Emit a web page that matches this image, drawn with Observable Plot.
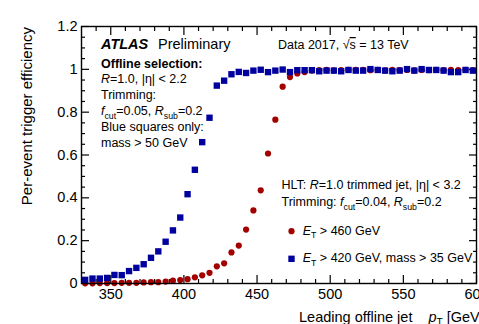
<!DOCTYPE html>
<html><head><meta charset="utf-8">
<script src="https://cdn.jsdelivr.net/npm/d3@7"></script>
<script src="https://cdn.jsdelivr.net/npm/@observablehq/plot@0.6"></script>
<style>
html,body{margin:0;padding:0;background:#fff;overflow:hidden;}
#chart{width:479px;height:324px;position:relative;overflow:hidden;}
svg text{font-family:"Liberation Sans",Arial,Helvetica,sans-serif;}
</style></head><body><div id="chart"></div>
<script>
// ---- data ----
const ptBins = [332.5,337.5,342.5,347.5,352.5,357.5,362.5,367.5,372.5,377.5,
  382.5,387.5,392.5,397.5,402.5,407.5,412.5,417.5,422.5,427.5,
  432.5,437.5,442.5,447.5,452.5,457.5,462.5,467.5,472.5,477.5,
  482.5,487.5,492.5,497.5,502.5,507.5,512.5,517.5,522.5,527.5,
  532.5,537.5,542.5,547.5,552.5,557.5,562.5,567.5,572.5,577.5,
  582.5,587.5,592.5,597.5];
// HLT E_T > 460 GeV (red circles)
const effEt460 = [0.001,0.001,0.002,0.002,0.002,0.003,0.003,0.003,0.005,0.006,
  0.006,0.009,0.013,0.016,0.020,0.029,0.038,0.050,0.080,0.094,
  0.145,0.177,0.252,0.341,0.435,0.607,0.765,0.919,0.964,0.981,
  0.987,0.994,0.996,0.998,0.995,0.996,0.998,0.998,0.998,0.996,
  0.998,0.995,0.998,0.996,0.997,0.995,0.997,0.996,0.998,0.996,
  0.998,0.997,0.998,0.996];
// HLT E_T > 420 GeV, mass > 35 GeV (blue squares)
const effEt420m35 = [0.017,0.023,0.023,0.026,0.040,0.039,0.058,0.073,0.090,0.120,
  0.150,0.195,0.248,0.308,0.417,0.531,0.660,0.774,0.924,0.947,
  0.977,0.988,0.983,0.994,0.998,0.987,0.994,0.999,0.987,0.996,
  0.996,0.996,0.991,0.994,0.994,0.991,0.997,0.994,0.994,1.001,
  0.997,0.994,0.991,0.994,1.001,0.994,1.001,0.997,0.997,0.994,
  0.987,0.987,0.997,0.994];
const xMajorTicks = [350,400,450,500,550,600];
const xTickLabels = ["350","400","450","500","550","600"];
const xMinorTicks = [340,360,370,380,390,410,420,430,440,460,470,480,490,510,520,530,540,560,570,580,590];
const yMajorTicks = [0,0.2,0.4,0.6,0.8,1,1.2];
const yTickLabels = ["0","0.2","0.4","0.6","0.8","1","1.2"];
const yMinorTicks = [0.05,0.1,0.15,0.25,0.3,0.35,0.45,0.5,0.55,0.65,0.7,0.75,0.85,0.9,0.95,1.05,1.1,1.15];

const red = "#a30000", blue = "#00009f";
const rowsRed = ptBins.map((x, i) => ({x, y: effEt460[i]}));
const rowsBlue = ptBins.map((x, i) => ({x, y: effEt420m35[i]}));

const ticks = (axis, anchor, t, size) => (axis === "x" ? Plot.axisX : Plot.axisY)({
  ticks: t, anchor, tickSize: size, tickFormat: () => "", label: null, strokeWidth: 1.2
});

const plot = Plot.plot({
  width: 479, height: 324,
  marginLeft: 81, marginRight: 3, marginTop: 26, marginBottom: 41,
  x: {domain: [330, 600], label: null},
  y: {domain: [0, 1.2], label: null},
  style: {fontFamily: '"Liberation Sans",Arial,Helvetica,sans-serif', fontSize: "14.5px", color: "#000", background: "#fff", overflow: "visible"},
  marks: [
    ticks("x", "bottom", xMajorTicks, -8), ticks("x", "bottom", xMinorTicks, -4),
    ticks("x", "top", xMajorTicks, -8), ticks("x", "top", xMinorTicks, -4),
    ticks("y", "left", yMajorTicks, -8), ticks("y", "left", yMinorTicks, -4),
    ticks("y", "right", yMajorTicks, -8), ticks("y", "right", yMinorTicks, -4),
    Plot.axisX({ticks: xMajorTicks, anchor: "bottom", tickSize: 0, tickPadding: 5, label: null,
      tickFormat: d => xTickLabels[xMajorTicks.indexOf(d)], fontSize: 14.5}),
    Plot.axisY({ticks: yMajorTicks, anchor: "left", tickSize: 0, tickPadding: 4, label: null,
      tickFormat: d => yTickLabels[yMajorTicks.indexOf(d)], fontSize: 14.5}),
    Plot.dot(rowsRed, {x: "x", y: "y", r: 3.1, fill: red, symbol: "circle"}),
    Plot.dot(rowsBlue, {x: "x", y: "y", r: 3.6, fill: blue, symbol: "square"}),
    Plot.frame({stroke: "#000", strokeWidth: 1.4}),
    Plot.dot([0], {frameAnchor: "top-left", dx: 210, dy: 204.7, r: 3.1, fill: red, symbol: "circle"}),
    Plot.dot([0], {frameAnchor: "top-left", dx: 210, dy: 232.3, r: 3.6, fill: blue, symbol: "square"})
  ]
});
document.getElementById("chart").append(plot);

// ---- rich-text annotations ----
const svg = d3.select(plot);
function rich(x, y, size, parts, opts = {}) {
  const t = svg.append("text").attr("x", x).attr("y", y).attr("font-size", size)
    .attr("fill", "#000").attr("text-anchor", opts.anchor || "start");
  if (opts.rotate) t.attr("transform", `rotate(-90 ${x} ${y})`);
  let shift = 0;
  for (const p of parts) {
    const s = typeof p === "string" ? {t: p} : p;
    const ts = t.append("tspan").text(s.t);
    if (s.i) ts.attr("font-style", "italic");
    if (s.b) ts.attr("font-weight", "bold");
    if (s.o) ts.attr("text-decoration", "overline");
    if (s.dx) ts.attr("dx", s.dx);
    const want = s.sub ? size * 0.28 : 0;
    if (want !== shift) { ts.attr("dy", want - shift); shift = want; }
    if (s.sub) ts.attr("font-size", size * 0.7);
  }
  return t;
}
rich(101, 48.5, 14.5, [{t: "ATLAS", b: 1, i: 1}]);
rich(158, 48.5, 14.5, ["Preliminary"]);
rich(278, 49, 12.5, ["Data 2017, √", {t: "s", o: 1}, " = 13 TeV"]);
rich(101, 67.5, 12.5, [{t: "Offline selection:", b: 1}]);
rich(101, 82.5, 12.5, [{t: "R", i: 1}, "=1.0, |η| < 2.2"]);
rich(101, 99, 12.5, ["Trimming:"]);
rich(101, 115, 12.5, [{t: "f", i: 1}, {t: "cut", sub: 1}, "=0.05, ", {t: "R", i: 1}, {t: "sub", sub: 1}, "=0.2"]);
rich(101, 131, 12.5, ["Blue squares only:"]);
rich(101, 147, 12.5, ["mass > 50 GeV"]);
rich(281.5, 189.3, 12.5, ["HLT: ", {t: "R", i: 1}, "=1.0 trimmed jet, |η| < 3.2"]);
rich(281.5, 206, 12.5, ["Trimming: ", {t: "f", i: 1}, {t: "cut", sub: 1}, "=0.04, ", {t: "R", i: 1}, {t: "sub", sub: 1}, "=0.2"]);
rich(302.7, 234.5, 12.5, [{t: "E", i: 1}, {t: "T", sub: 1}, " > 460 GeV"]);
rich(302.7, 262, 12.5, [{t: "E", i: 1}, {t: "T", sub: 1}, " > 420 GeV, mass > 35 GeV"]);
rich(31.5, 27, 15, ["Per-event trigger efficiency"], {anchor: "end", rotate: true});
rich(299, 321.5, 14.5, ["Leading offline jet", {t: "p", i: 1, dx: 16}, {t: "T", sub: 1}, " [GeV]"]);
</script></body></html>
